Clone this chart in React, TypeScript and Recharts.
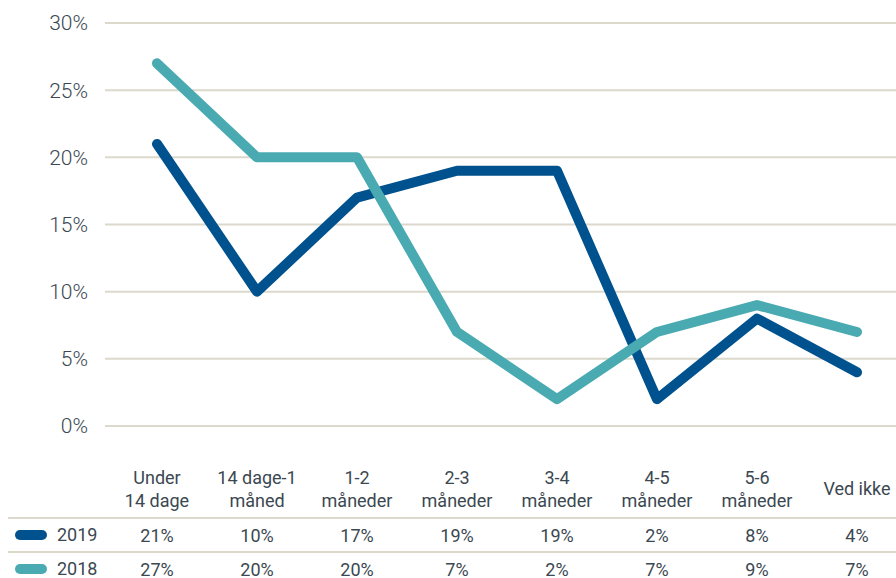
import React from "react";
import { LineChart, Line, XAxis, YAxis, CartesianGrid } from "recharts";

const categories = ["Under 14 dage", "14 dage-1 måned", "1-2 måneder", "2-3 måneder", "3-4 måneder", "4-5 måneder", "5-6 måneder", "Ved ikke"];
const categoryLines = [
  ["Under", "14 dage"],
  ["14 dage-1", "måned"],
  ["1-2", "måneder"],
  ["2-3", "måneder"],
  ["3-4", "måneder"],
  ["4-5", "måneder"],
  ["5-6", "måneder"],
  ["Ved ikke"],
];
const values2019 = [21, 10, 17, 19, 19, 2, 8, 4];
const values2018 = [27, 20, 20, 7, 2, 7, 9, 7];
const yTicks = [0, 5, 10, 15, 20, 25, 30];
const seriesNames = ["2019", "2018"];

const COLOR_2019 = "#00528e";
const COLOR_2018 = "#49abb1";
const TEXT = "#3b4851";
const GRID = "#dcd8cb";
const FONT = "Roboto, 'DejaVu Sans', sans-serif";

const data = categories.map((c, i) => ({ name: c, y2019: values2019[i], y2018: values2018[i] }));

const TableTick = (props: any) => {
  const { x, y, payload } = props;
  const idx = payload.index;
  const lines = categoryLines[idx] || [payload.value];
  const headerOffsets = lines.length === 2 ? [51, 74] : [62];
  return (
    <g>
      {lines.map((l, i) => (
        <text key={i} x={x} y={y + headerOffsets[i]} textAnchor="middle" dominantBaseline="central" fill={TEXT} fontSize={18} fontFamily={FONT}>
          {l}
        </text>
      ))}
      <text x={x} y={y + 109} textAnchor="middle" dominantBaseline="central" fill={TEXT} fontSize={18} fontFamily={FONT}>
        {values2019[idx] + "%"}
      </text>
      <text x={x} y={y + 143} textAnchor="middle" dominantBaseline="central" fill={TEXT} fontSize={18} fontFamily={FONT}>
        {values2018[idx] + "%"}
      </text>
    </g>
  );
};

export default function App() {
  return (
    <div style={{ position: "fixed", left: 0, top: 0, width: 896, height: 578, overflow: "hidden", fontFamily: FONT, background: "#fff" }}>
      <div style={{ position: "absolute", left: 8, top: 8 }}>
        <LineChart width={900} height={570} data={data} margin={{ top: 15, right: 1, left: 0, bottom: 0 }}>
          <CartesianGrid vertical={false} stroke={GRID} strokeWidth={2} />
          <XAxis
            dataKey="name"
            axisLine={false}
            tickLine={false}
            tickSize={0}
            tickMargin={0}
            height={152}
            padding={{ left: 52, right: 50 }}
            interval={0}
            tick={<TableTick />}
          />
          <YAxis
            domain={[0, 30]}
            ticks={yTicks}
            width={97}
            axisLine={false}
            tickLine={false}
            tickSize={0}
            tickMargin={17}
            tickFormatter={(v: number) => v + "%"}
            tick={{ fill: TEXT, fontSize: 21, fontFamily: FONT, fontWeight: 300 }}
          />
          <Line type="linear" dataKey="y2019" stroke={COLOR_2019} strokeWidth={10} strokeLinecap="round" strokeLinejoin="round" dot={false} activeDot={false} isAnimationActive={false} />
          <Line type="linear" dataKey="y2018" stroke={COLOR_2018} strokeWidth={10} strokeLinecap="round" strokeLinejoin="round" dot={false} activeDot={false} isAnimationActive={false} />
        </LineChart>
      </div>
      <div style={{ position: "absolute", left: 8, top: 517, width: 888, height: 2, background: GRID }} />
      <div style={{ position: "absolute", left: 8, top: 551, width: 888, height: 2, background: GRID }} />
      {[COLOR_2019, COLOR_2018].map((c, i) => (
        <React.Fragment key={i}>
          <div style={{ position: "absolute", left: 15, top: 530 + i * 34, width: 32, height: 10, borderRadius: 5, background: c }} />
          <div style={{ position: "absolute", left: 57, top: 524 + i * 34, height: 22, lineHeight: "22px", fontSize: 18, color: TEXT }}>
            {seriesNames[i]}
          </div>
        </React.Fragment>
      ))}
    </div>
  );
}
